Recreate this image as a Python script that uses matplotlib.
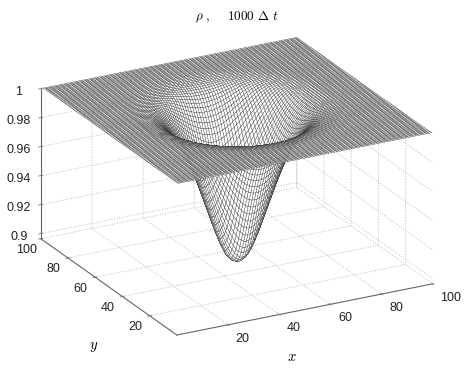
import numpy as np
import matplotlib
matplotlib.use('Agg')
import matplotlib.pyplot as plt

radius = [0, 2, 4, 6, 8, 10, 12, 14, 16, 18, 20, 22, 24, 26, 28, 30, 32, 34, 36, 40, 80]
rho = [0.8965, 0.898, 0.902, 0.910, 0.920, 0.931, 0.942, 0.953, 0.963, 0.972, 0.979,
       0.985, 0.990, 0.994, 0.9965, 0.998, 0.9988, 0.9994, 0.9998, 1.000, 1.000]
grid_x = np.arange(1, 101)
grid_y = np.arange(1, 101)
center = (50, 50)
xy_ticks = [20, 40, 60, 80, 100]
z_ticks = [0.9, 0.92, 0.94, 0.96, 0.98, 1]
z_labels = ['0.9', '0.92', '0.94', '0.96', '0.98', '1']

plt.rcParams['font.family'] = ['Liberation Sans', 'DejaVu Sans']
plt.rcParams['grid.color'] = '#bcbcbc'
plt.rcParams['grid.linestyle'] = ':'
plt.rcParams['grid.linewidth'] = 0.7

W, H = 467, 369
L = 428
cx, cy = 231, 177

X, Y = np.meshgrid(grid_x, grid_y)
Z = np.interp(np.hypot(X - center[0], Y - center[1]), radius, rho)

fig = plt.figure(figsize=(W / 100, H / 100), dpi=100)
ax = fig.add_axes([(cx - L / 2) / W, (cy - L / 2) / H, L / W, L / H], projection='3d')
ax.patch.set_alpha(0)
ax.set_proj_type('ortho')
ax.view_init(elev=22.1, azim=-118)
ax.set_box_aspect((290, 290, 162))

ax.plot_surface(X, Y, Z, rstride=1, cstride=1, color='white', edgecolor='#222222',
                linewidth=0.22, shade=False)

ax.set_xlim(0, 100)
ax.set_ylim(0, 100)
ax.set_zlim(min(rho), 1)
ax.set_xticks(xy_ticks)
ax.set_yticks(xy_ticks)
ax.set_zticks(z_ticks)
ax.set_zticklabels(z_labels)
ax.tick_params(labelsize=9, labelcolor='#222222', color='#777777', pad=1)

for axis in (ax.xaxis, ax.yaxis, ax.zaxis):
    axis.set_pane_color((1, 1, 1, 0))
    axis.pane.set_edgecolor('none')
    axis.line.set_color('#666666')
    axis.line.set_linewidth(0.8)
    axis._axinfo['tick']['inward_factor'] = 0.1
    axis._axinfo['tick']['outward_factor'] = 0.1
    axis._axinfo['tick']['linewidth'] = {True: 0.6, False: 0.4}

plt.setp(ax.get_xticklabels(), ha='left', va='center')
plt.setp(ax.get_yticklabels(), va='center')

fig.text(237 / W, 1 - 17 / H, r'$\rho\ ,\quad\ \mathit{1000}\ \Delta\ t$', ha='center', va='center',
         fontsize=9.5, math_fontfamily='cm')
fig.text(292 / W, 1 - 357 / H, r'$x$', ha='center', va='center', fontsize=10.5, math_fontfamily='cm')
fig.text(94 / W, 1 - 347 / H, r'$y$', ha='center', va='center', fontsize=10.5, math_fontfamily='cm')

fig.savefig('out.png', dpi=100)
